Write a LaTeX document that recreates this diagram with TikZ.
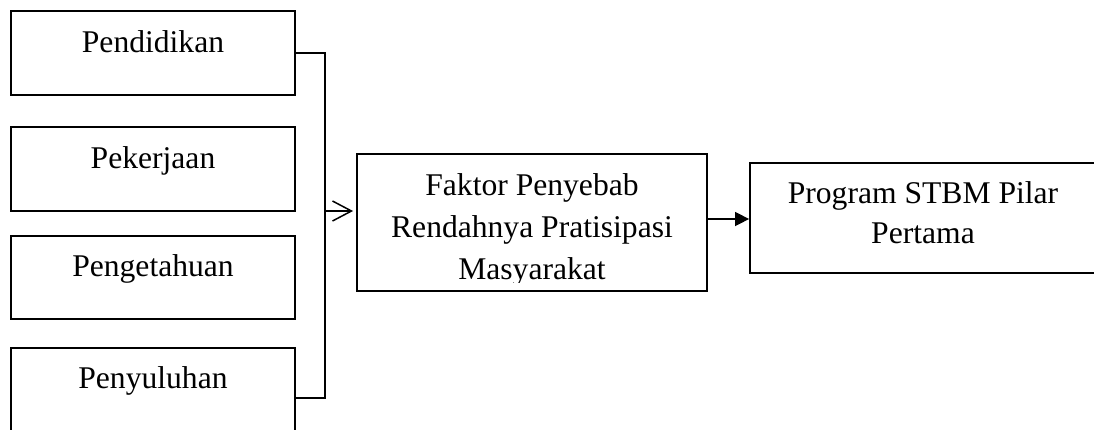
\documentclass[tikz,border=0pt]{standalone}
\usepackage{fontspec}
\setmainfont{Liberation Serif}
\usetikzlibrary{arrows.meta,calc}
\begin{document}
\begin{tikzpicture}[x=1pt,y=-1pt,
  box/.style={draw,line width=1.8pt,inner sep=0pt,rectangle},
  lbl/.style={anchor=base,inner sep=0pt,font=\fontsize{31.6}{38}\selectfont},
  conn/.style={line width=1.5pt}]
\useasboundingbox (0,0) rectangle (1094,429);
% left boxes
\node[box,minimum width=284pt,minimum height=84pt] (p1) at (153,53) {};
\node[box,minimum width=284pt,minimum height=84pt] (p2) at (153,169) {};
\node[box,minimum width=284pt,minimum height=83pt] (p3) at (153,277.5) {};
\node[box,minimum width=284pt,minimum height=100pt] (p4) at (153,398) {};
\node[lbl] (t1) at ($(p1.north)+(0,42)$) {Pendidikan};
\node[lbl] (t2) at ($(p2.north)+(0,42)$) {Pekerjaan};
\node[lbl] (t3) at ($(p3.north)+(0,41)$) {Pengetahuan};
\node[lbl] (t4) at ($(p4.north)+(0,41)$) {Penyuluhan};
% middle box
\node[box,minimum width=350pt,minimum height=137pt] (m) at (532,222.5) {};
\begin{scope}
  \clip (m.north west) rectangle ($(m.south east)+(0,-9)$);
  \node[lbl] (m1) at ($(m.north)+(0,42)$) {Faktor Penyebab};
  \node[lbl] (m2) at ($(m.north)+(0,84)$) {Rendahnya Pratisipasi};
  \node[lbl] (m3) at ($(m.north)+(0,126)$) {Masyarakat};
\end{scope}
% right box
\node[box,minimum width=346pt,minimum height=110pt] (r) at (923,218) {};
\node[lbl] (r1) at ($(r.north)+(0,41)$) {Program STBM Pilar};
\node[lbl] (r2) at ($(r.north)+(0,81)$) {Pertama};
% bracket connector
\draw[conn] (p1.east) -- ++(29,0) coordinate (b1) |- (p4.east);
\coordinate (j) at ($(b1)+(0,158)$);
\draw[conn,-{Straight Barb[length=19pt,width=20pt]}] (j) -- ([xshift=-3pt]m.west |- j);
% arrow to right box
\coordinate (a1) at ($(m.east)+(0,-3.5)$);
\draw[conn,-{Triangle[length=14pt,width=14pt]}] (a1) -- (r.west |- a1);
\end{tikzpicture}
\end{document}
